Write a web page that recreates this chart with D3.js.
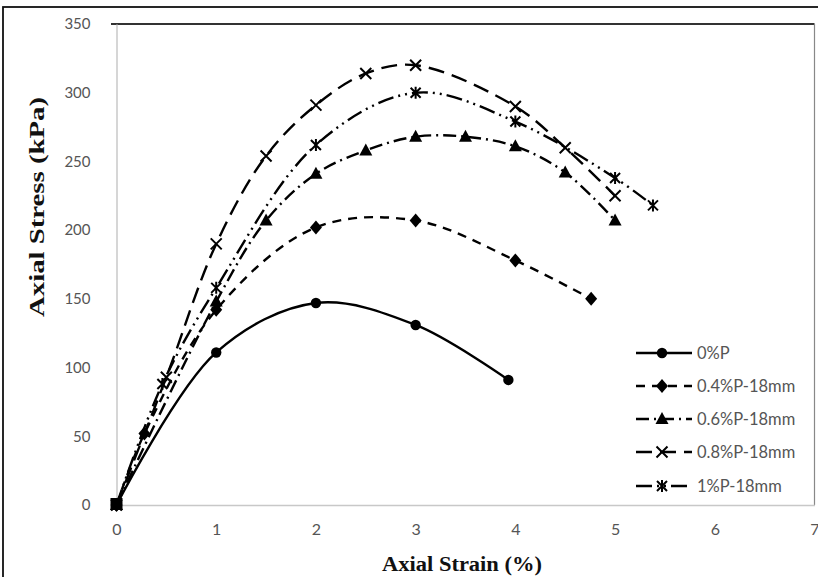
<!DOCTYPE html>
<html><head><meta charset="utf-8">
<script src="https://cdn.jsdelivr.net/npm/d3@7"></script>
<style>body{margin:0;background:#fff;} svg{display:block;}</style>
</head><body>
<svg id="chart" width="818" height="577"></svg>
<script>
const seriesNames = ["0%P", "0.4%P-18mm", "0.6%P-18mm", "0.8%P-18mm", "1%P-18mm"];
const p0_strain = [0, 1, 2, 3, 3.93];
const p0_stress = [0, 111, 147, 131, 91];
const p04_strain = [0, 0.28, 1, 2, 3, 4, 4.76];
const p04_stress = [0, 52, 142, 202, 207, 178, 150];
const p06_strain = [0, 1, 1.5, 2, 2.5, 3, 3.5, 4, 4.5, 5];
const p06_stress = [0, 148, 207, 241, 258, 268, 268, 261, 242, 207];
const p08_strain = [0, 0.5, 1, 1.5, 2, 2.5, 3, 4, 4.5, 5];
const p08_stress = [0, 93, 190, 254, 291, 314, 320, 290, 260, 225];
const p1_strain = [0, 0.46, 1, 2, 3, 4, 5, 5.38];
const p1_stress = [0, 88, 158, 262, 300, 279, 238, 218];
const xTicks = [0, 1, 2, 3, 4, 5, 6, 7];
const yTicks = [0, 50, 100, 150, 200, 250, 300, 350];

const svg = d3.select("#chart");
const x = d3.scaleLinear().domain([0, 7]).range([116.5, 814.5]);
const y = d3.scaleLinear().domain([0, 350]).range([505, 24]);

// outer frame
svg.append("rect").attr("x", 3).attr("y", 7).attr("width", 840).attr("height", 620)
  .attr("fill", "none").attr("stroke", "#111").attr("stroke-width", 1.8);

// plot area borders
svg.append("line").attr("x1", 111).attr("x2", x(7)).attr("y1", y(350)).attr("y2", y(350))
  .attr("stroke", "#333").attr("stroke-width", 2.2);
svg.append("line").attr("x1", x(7)).attr("x2", x(7)).attr("y1", y(350)).attr("y2", y(0))
  .attr("stroke", "#888").attr("stroke-width", 1.2);

// axes
const yAxis = d3.axisLeft(y).tickValues(yTicks).tickSize(0).tickPadding(26).tickFormat(d3.format("d"));
const gy = svg.append("g").attr("transform", `translate(${x(0)},0)`).call(yAxis);
gy.select(".domain").attr("stroke", "#c8c8c8").attr("stroke-width", 1.5);
gy.selectAll("text").attr("font-family", "Lato, 'Open Sans', sans-serif").attr("font-size", 15).attr("fill", "#555");

const xAxis = d3.axisBottom(x).tickValues(xTicks).tickSize(0).tickPadding(19).tickFormat(d3.format("d"));
const gx = svg.append("g").attr("transform", `translate(0,${y(0)})`).call(xAxis);
gx.select(".domain").attr("stroke", "#c8c8c8").attr("stroke-width", 1.5);
gx.selectAll("text").attr("font-family", "Lato, 'Open Sans', sans-serif").attr("font-size", 16).attr("fill", "#555");

// axis titles
svg.append("text").attr("x", 462).attr("y", 571).attr("text-anchor", "middle")
  .attr("font-family", "'Liberation Serif', serif").attr("font-weight", "bold").attr("font-size", 20)
  .attr("textLength", 160).attr("lengthAdjust", "spacingAndGlyphs")
  .attr("fill", "#111").text("Axial Strain (%)");
svg.append("text").attr("transform", "translate(44,207) rotate(-90)").attr("text-anchor", "middle")
  .attr("font-family", "'Liberation Serif', serif").attr("font-weight", "bold").attr("font-size", 22)
  .attr("textLength", 220).attr("lengthAdjust", "spacingAndGlyphs")
  .attr("fill", "#111").text("Axial Stress (kPa)");

const series = [
  {name: seriesNames[0], xs: p0_strain, ys: p0_stress, dash: null, sym: "circle"},
  {name: seriesNames[1], xs: p04_strain, ys: p04_stress, dash: "9,7", sym: "diamond"},
  {name: seriesNames[2], xs: p06_strain, ys: p06_stress, dash: "13,5,2,5", sym: "triangle"},
  {name: seriesNames[3], xs: p08_strain, ys: p08_stress, dash: "16,8", sym: "x"},
  {name: seriesNames[4], xs: p1_strain, ys: p1_stress, dash: "16,5,2,5,2,5", sym: "star"}
];

const line = d3.line().x(d => x(d[0])).y(d => y(d[1])).curve(d3.curveCatmullRom.alpha(0.5));

function drawMarker(g, sym, cx, cy) {
  if (sym === "circle") {
    g.append("path").attr("d", d3.symbol(d3.symbolCircle, 85)()).attr("transform", `translate(${cx},${cy})`).attr("fill", "#000");
  } else if (sym === "diamond") {
    g.append("path").attr("d", "M0,-7L6,0L0,7L-6,0Z").attr("transform", `translate(${cx},${cy})`).attr("fill", "#000");
  } else if (sym === "triangle") {
    g.append("path").attr("d", "M0,-7L6.5,5L-6.5,5Z").attr("transform", `translate(${cx},${cy})`).attr("fill", "#000");
  } else if (sym === "x") {
    g.append("path").attr("d", "M-5.5,-5.5L5.5,5.5M-5.5,5.5L5.5,-5.5").attr("transform", `translate(${cx},${cy})`)
      .attr("stroke", "#000").attr("stroke-width", 2).attr("fill", "none");
  } else if (sym === "star") {
    g.append("path").attr("d", "M-5,-5L5,5M-5,5L5,-5M0,-6L0,6").attr("transform", `translate(${cx},${cy})`)
      .attr("stroke", "#000").attr("stroke-width", 2).attr("fill", "none");
  }
}

const plot = svg.append("g");
series.forEach(s => {
  const pts = s.xs.map((v, i) => [v, s.ys[i]]);
  plot.append("path").datum(pts).attr("d", line).attr("fill", "none")
    .attr("stroke", "#000").attr("stroke-width", 2.4)
    .attr("stroke-dasharray", s.dash);
  pts.forEach(p => drawMarker(plot, s.sym, x(p[0]), y(p[1])));
});

// origin cluster square
plot.append("rect").attr("x", x(0) - 6).attr("y", y(0) - 7).attr("width", 12).attr("height", 12).attr("fill", "#000");

// legend
const legendY = [353, 386, 419, 452, 486];
const lg = svg.append("g");
series.forEach((s, i) => {
  const ly = legendY[i];
  lg.append("line").attr("x1", 636).attr("x2", 692).attr("y1", ly).attr("y2", ly)
    .attr("stroke", "#000").attr("stroke-width", 2.6).attr("stroke-dasharray", s.dash);
  drawMarker(lg, s.sym, 662, ly);
  lg.append("text").attr("x", 697).attr("y", ly + 6).attr("font-family", "Lato, 'Open Sans', sans-serif")
    .attr("font-size", 16.5).attr("fill", "#555").text(s.name);
});
</script>
</body></html>
